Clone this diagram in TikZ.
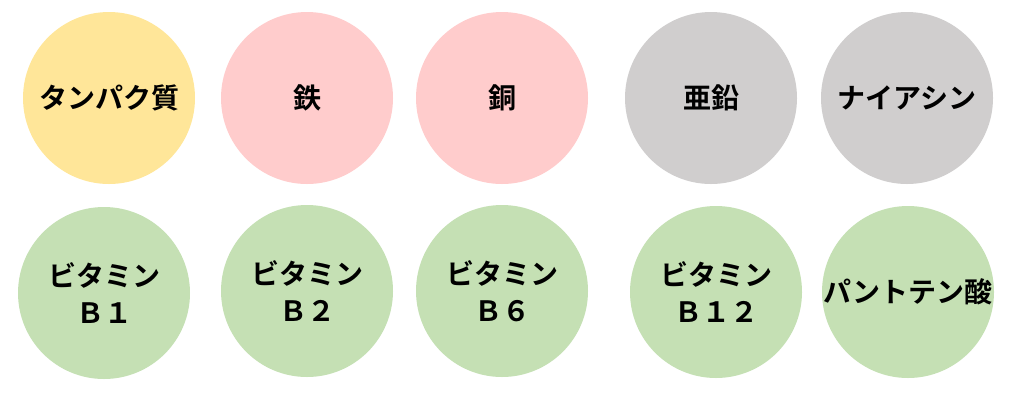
\documentclass[tikz,border=0pt]{standalone}
\usepackage{fontspec}
\newfontfamily\jp{Noto Sans CJK JP Bold}
\definecolor{cyellow}{HTML}{FFE699}
\definecolor{cpink}{HTML}{FFCCCC}
\definecolor{cgray}{HTML}{D0CECE}
\definecolor{cgreen}{HTML}{C5E0B4}
\tikzset{
  disc/.style={circle, minimum size=172pt, inner sep=0pt, align=center,
    font=\jp\fontsize{28}{37}\selectfont, text=black},
}
\begin{document}
\begin{tikzpicture}[x=1pt,y=-1pt]
\useasboundingbox (0,0) rectangle (1011,400);
\node[disc, fill=cyellow] (tanpaku) at (109,98) {タンパク質};
\node[disc, fill=cpink] (tetsu) at (307,98) {鉄};
\node[disc, fill=cpink] (dou) at (502,98) {銅};
\node[disc, fill=cgray] (aen) at (711,98) {亜鉛};
\node[disc, fill=cgray] (niacin) at (907,98) {ナイアシン};
\node[disc, fill=cgreen] (b1) at (104,293) {ビタミン\\Ｂ１};
\node[disc, fill=cgreen] (b2) at (307,291) {ビタミン\\Ｂ２};
\node[disc, fill=cgreen] (b6) at (502,291) {ビタミン\\Ｂ６};
\node[disc, fill=cgreen] (b12) at (716,292) {ビタミン\\Ｂ１２};
\node[disc, fill=cgreen] (panto) at (908,292) {パントテン酸};
\end{tikzpicture}
\end{document}
